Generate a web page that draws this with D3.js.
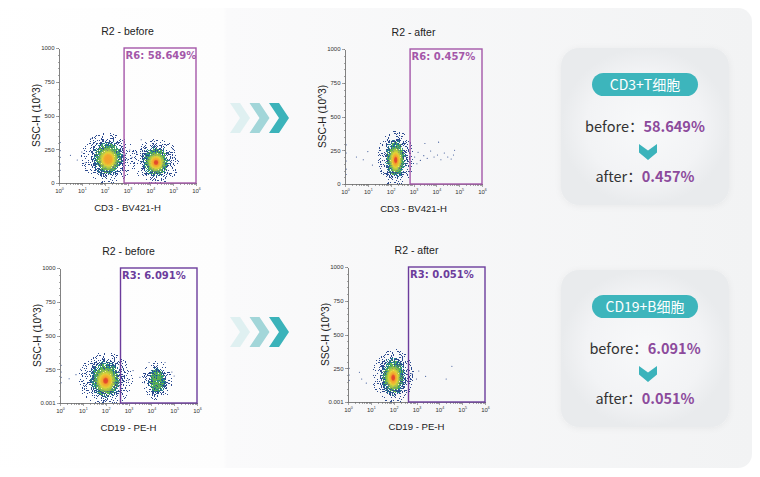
<!DOCTYPE html>
<html>
<head>
<meta charset="utf-8">
<script src="https://cdn.jsdelivr.net/npm/d3@7"></script>
<style>
    html, body { margin: 0; padding: 0; background: #fff; }
    svg { display: block; }
    .axis path, .axis line { stroke: #6a6a6a; stroke-width: 0.6; shape-rendering: crispEdges; }
    .axis text { font-family: "Liberation Sans", Arial, sans-serif; font-size: 6px; fill: #333; }
    .plot-title, .axis-label { font-family: "Liberation Sans", Arial, sans-serif; fill: #222; }
    .gate-label { font-family: "DejaVu Sans", Verdana, sans-serif; font-weight: bold; font-size: 10px; }
    .card text { font-family: "Noto Sans CJK SC", "Noto Sans", sans-serif; }
</style>
</head>
<body>
<svg id="chart" width="760" height="477"></svg>
<script>
    // ---- values ----
    var plotTitles = ['R2 - before', 'R2 - after', 'R2 - before', 'R2 - after'];
    var markerLabels = ['CD3 - BV421-H', 'CD3 - BV421-H', 'CD19 - PE-H', 'CD19 - PE-H'];
    var gateLabels = ['R6: 58.649%', 'R6: 0.457%', 'R3: 6.091%', 'R3: 0.051%'];
    var gateFrom = [2.85, 2.85, 2.65, 2.65];          // log10 of the gate's left edge
    var xDecades = [0, 1, 2, 3, 4, 5, 6];
    var yTicks = [0, 250, 500, 750, 1000];
    var yTickTextTop = ['0', '250', '500', '750', '1000'];
    var yTickTextBottom = ['0.001', '250', '500', '750', '1000'];

    // cell clusters: plot index, log10 centre, SSC centre, log10 half width, SSC half height, colour depth
    var clusterPlot = [0, 0, 1, 2, 2, 3];
    var clusterX = [2.15, 4.25, 2.22, 2.00, 4.25, 1.98];
    var clusterY = [185, 160, 188, 175, 165, 190];
    var clusterRx = [0.80, 0.72, 0.54, 0.82, 0.45, 0.62];
    var clusterRy = [155, 135, 172, 165, 120, 168];
    var clusterDepth = [5, 6, 6, 6, 3, 6];

    // scattered single events [log10, SSC]
    var straysCD3Before = [[0.05, 300], [0.05, 240], [0.05, 190], [0.05, 140], [0.05, 95], [0.5, 205],
        [0.8, 170], [1.0, 230], [1.15, 150], [2.9, 215], [3.0, 170], [3.1, 245], [3.2, 190], [3.3, 150],
        [3.4, 225], [5.05, 190], [5.0, 250], [1.4, 330], [3.6, 320]];
    var straysCD3After = [[3.05, 200], [3.2, 235], [3.3, 175], [3.45, 210], [3.6, 190], [3.75, 245],
        [3.9, 200], [4.05, 215], [4.2, 180], [4.35, 230], [4.5, 200], [4.65, 185], [4.75, 215], [4.8, 250],
        [3.5, 300], [4.1, 310], [3.15, 150], [0.05, 290], [0.05, 230], [0.05, 170], [0.05, 110],
        [0.05, 70], [0.5, 200], [0.8, 180], [1.0, 240], [1.2, 140]];
    var straysCD19Before = [[0.05, 280], [0.05, 230], [0.05, 190], [0.05, 150], [0.4, 180], [0.7, 210],
        [2.8, 200], [3.0, 170], [3.2, 240], [3.5, 190], [3.7, 150], [4.9, 230], [5.0, 200], [3.9, 300],
        [4.6, 300], [0.9, 250]];
    var straysCD19After = [[0.05, 250], [0.05, 200], [0.05, 160], [0.5, 220], [0.6, 170], [0.8, 140],
        [2.8, 210], [3.0, 170], [3.4, 190], [4.3, 170], [4.55, 265], [3.1, 230]];

    var cardTitles = ['CD3+T细胞', 'CD19+B细胞'];
    var beforeValues = ['58.649%', '6.091%'];
    var afterValues = ['0.457%', '0.051%'];

    // ---- layout ----
    var plotBox = [{x: 59, y: 48}, {x: 345, y: 49}, {x: 60, y: 268}, {x: 348, y: 267}];
    var plotW = 137, plotH = 135;
    var gateColours = ['#a457a9', '#a457a9', '#6c3c9c', '#6c3c9c'];
    var strays = [straysCD3Before, straysCD3After, straysCD19Before, straysCD19After];
    var inkColours = ['#2d4b90', '#24868f', '#5daf52', '#f2dc34', '#f3a02d', '#e3432b'];
    var layerScale = [1.0, 0.86, 0.72, 0.56, 0.34, 0.17];
    var cardTops = [48, 270];
    var arrowRows = [103, 317];

    var svg = d3.select('#chart');
    var defs = svg.append('defs');

    // panel backdrop
    var panelFill = defs.append('linearGradient').attr('id', 'panelFill');
    panelFill.append('stop').attr('offset', '0%').attr('stop-color', '#ffffff');
    panelFill.append('stop').attr('offset', '31.5%').attr('stop-color', '#fdfdfd');
    panelFill.append('stop').attr('offset', '32%').attr('stop-color', '#fafafb');
    panelFill.append('stop').attr('offset', '100%').attr('stop-color', '#f2f3f4');

    var cardFill = defs.append('radialGradient').attr('id', 'cardFill');
    cardFill.append('stop').attr('offset', '0%').attr('stop-color', '#f8f9fa');
    cardFill.append('stop').attr('offset', '70%').attr('stop-color', '#f2f3f5');
    cardFill.append('stop').attr('offset', '100%').attr('stop-color', '#e9ebed');

    defs.append('filter').attr('id', 'cardShadow')
        .attr('x', '-20%').attr('y', '-20%').attr('width', '140%').attr('height', '140%')
        .append('feDropShadow').attr('dx', 0).attr('dy', 1).attr('stdDeviation', 3)
        .attr('flood-color', '#000').attr('flood-opacity', 0.05);

    defs.append('filter').attr('id', 'soft')
        .attr('x', '-30%').attr('y', '-30%').attr('width', '160%').attr('height', '160%')
        .append('feGaussianBlur').attr('stdDeviation', 0.7);

    // grainy fill: the alpha of the shape decides how many noise grains survive
    function addDither(id, colour, seed) {
        var f = defs.append('filter').attr('id', id)
            .attr('filterUnits', 'userSpaceOnUse')
            .attr('x', -60).attr('y', -60).attr('width', 300).attr('height', 300)
            .attr('color-interpolation-filters', 'sRGB');
        f.append('feTurbulence').attr('type', 'fractalNoise').attr('baseFrequency', 0.9)
            .attr('numOctaves', 1).attr('seed', seed).attr('result', 'noise');
        f.append('feColorMatrix').attr('in', 'noise').attr('type', 'matrix')
            .attr('values', '0 0 0 0 0  0 0 0 0 0  0 0 0 0 0  4.5 0 0 0 -1.75')
            .attr('result', 'grain');
        f.append('feComposite').attr('in', 'SourceGraphic').attr('in2', 'grain')
            .attr('operator', 'arithmetic')
            .attr('k1', 0).attr('k2', 1).attr('k3', -1).attr('k4', 0.45)
            .attr('result', 'diff');
        f.append('feComponentTransfer').attr('in', 'diff').attr('result', 'dots')
            .append('feFuncA').attr('type', 'discrete').attr('tableValues', '0 1');
        f.append('feFlood').attr('flood-color', colour).attr('result', 'ink');
        f.append('feComposite').attr('in', 'ink').attr('in2', 'dots').attr('operator', 'in');
    }
    addDither('ditherHalo', inkColours[0], 19);
    addDither('dither0', inkColours[0], 3);
    addDither('dither1', inkColours[1], 7);
    addDither('dither2', inkColours[2], 11);

    function addFade(id, colour, stops) {
        var gr = defs.append('radialGradient').attr('id', id);
        stops.forEach(function (s) {
            gr.append('stop').attr('offset', s[0]).attr('stop-color', colour).attr('stop-opacity', s[1]);
        });
    }
    addFade('fadeHalo', '#000', [[0, 0.3], [0.5, 0.18], [1, 0]]);
    addFade('fadeDither0', '#000', [[0, 0.85], [0.6, 0.55], [1, 0]]);
    addFade('fadeDither1', '#000', [[0, 1], [0.6, 0.72], [1, 0.05]]);
    addFade('fadeDither2', '#000', [[0, 1], [0.6, 0.85], [1, 0.15]]);
    [3, 4, 5].forEach(function (k) {
        addFade('fade' + k, inkColours[k], [[0, 1], [0.55, 0.9], [1, 0]]);
    });

    svg.append('rect')
        .attr('x', -20).attr('y', 8).attr('width', 772).attr('height', 460).attr('rx', 14)
        .attr('fill', 'url(#panelFill)');

    // ---- dot plots ----
    plotBox.forEach(function (box, i) {
        var x = d3.scaleLog().domain([1, 1e6]).range([0, plotW]),
            y = d3.scaleLinear().domain([0, 1000]).range([plotH, 0]),
            top = i < 2,
            $plot = svg.append('g')
                .attr('transform', 'translate(' + box.x + ',' + box.y + ')');

        $plot.append('clipPath').attr('id', 'clip' + i)
            .append('rect').attr('width', plotW).attr('height', plotH);

        var $cells = $plot.append('g').attr('clip-path', 'url(#clip' + i + ')');

        clusterPlot.forEach(function (p, c) {
            if (p !== i) return;
            var cx = x(Math.pow(10, clusterX[c])),
                cy = y(clusterY[c]),
                rx = x(Math.pow(10, clusterX[c] + clusterRx[c])) - cx,
                ry = cy - y(clusterY[c] + clusterRy[c]);

            $cells.append('ellipse')
                .attr('cx', cx).attr('cy', cy)
                .attr('rx', rx * 1.7).attr('ry', ry * 1.4)
                .attr('fill', 'url(#fadeHalo)')
                .attr('filter', 'url(#ditherHalo)');

            for (var k = 0; k < clusterDepth[c]; k++) {
                var $e = $cells.append('ellipse')
                    .attr('cx', cx).attr('cy', cy + (k > 2 ? ry * 0.06 : 0))
                    .attr('rx', rx * layerScale[k]).attr('ry', ry * layerScale[k]);
                if (k < 3) {
                    $e.attr('fill', 'url(#fadeDither' + k + ')').attr('filter', 'url(#dither' + k + ')');
                } else {
                    $e.attr('fill', 'url(#fade' + k + ')').attr('filter', 'url(#soft)');
                }
            }
        });

        $cells.selectAll('circle.stray')
            .data(strays[i])
            .enter().append('circle')
            .attr('class', 'stray')
            .attr('cx', function (d) { return x(Math.pow(10, d[0])); })
            .attr('cy', function (d) { return y(d[1]); })
            .attr('r', 0.55)
            .attr('fill', inkColours[0]);

        // axes
        var minor = [];
        for (var p = 0; p < 6; p++) {
            for (var m = 2; m < 10; m++) minor.push(m * Math.pow(10, p));
        }
        $plot.append('g').attr('class', 'axis')
            .attr('transform', 'translate(0,' + plotH + ')')
            .call(d3.axisBottom(x).tickValues(minor).tickSize(1.5).tickSizeOuter(0).tickFormat(''));
        var $xAxis = $plot.append('g').attr('class', 'axis')
            .attr('transform', 'translate(0,' + plotH + ')')
            .call(d3.axisBottom(x)
                .tickValues(xDecades.map(function (d) { return Math.pow(10, d); }))
                .tickSize(3).tickSizeOuter(0).tickFormat(''));
        $xAxis.selectAll('.tick').append('text')
            .attr('y', 10)
            .attr('fill', '#333')
            .each(function (d, j) {
                var t = d3.select(this);
                t.append('tspan').text('10');
                t.append('tspan').attr('dy', -2.6).attr('font-size', 3.6).text(xDecades[j]);
            });

        var yMinor = d3.range(0, 1001, 50);
        $plot.append('g').attr('class', 'axis')
            .call(d3.axisLeft(y).tickValues(yMinor).tickSize(1.5).tickSizeOuter(0).tickFormat(''));
        $plot.append('g').attr('class', 'axis')
            .call(d3.axisLeft(y).tickValues(yTicks).tickSize(3).tickSizeOuter(0).tickPadding(1.5)
                .tickFormat(function (d, j) { return (top ? yTickTextTop : yTickTextBottom)[j]; }));

        // gate
        var gx = x(Math.pow(10, gateFrom[i]));
        $plot.append('rect')
            .attr('x', gx).attr('y', 0)
            .attr('width', plotW - gx).attr('height', plotH)
            .attr('fill', 'none')
            .attr('stroke', gateColours[i])
            .attr('stroke-width', 1.4);
        $plot.append('text').attr('class', 'gate-label')
            .attr('x', gx + 1.5).attr('y', 11)
            .attr('fill', gateColours[i])
            .text(gateLabels[i]);

        $plot.append('text').attr('class', 'plot-title')
            .attr('x', plotW / 2).attr('y', -13)
            .attr('text-anchor', 'middle').attr('font-size', 10.5)
            .text(plotTitles[i]);
        $plot.append('text').attr('class', 'axis-label')
            .attr('x', plotW / 2).attr('y', plotH + 28)
            .attr('text-anchor', 'middle').attr('font-size', 9.6)
            .text(markerLabels[i]);
        $plot.append('text').attr('class', 'axis-label')
            .attr('transform', 'translate(-19.5,' + (plotH / 2) + ') rotate(-90)')
            .attr('text-anchor', 'middle').attr('font-size', 10.2)
            .text('SSC-H (10^3)');
    });

    // ---- chevrons between before / after ----
    var arrowShades = ['#dff0f1', '#a2d6d9', '#3bb3ba'];
    arrowRows.forEach(function (ay) {
        arrowShades.forEach(function (shade, k) {
            svg.append('path')
                .attr('transform', 'translate(' + (230 + k * 19.5) + ',' + ay + ')')
                .attr('d', 'M0,0 L10,0 L20,15 L10,30 L0,30 L10,15 Z')
                .attr('fill', shade);
        });
    });

    // ---- summary cards ----
    cardTops.forEach(function (ty, i) {
        var $card = svg.append('g').attr('class', 'card');

        $card.append('rect')
            .attr('x', 561).attr('y', ty).attr('width', 168).attr('height', 157).attr('rx', 18)
            .attr('fill', 'url(#cardFill)')
            .attr('filter', 'url(#cardShadow)');

        $card.append('rect')
            .attr('x', 592).attr('y', ty + 25).attr('width', 106).attr('height', 23).attr('rx', 11.5)
            .attr('fill', '#3db5bc');
        $card.append('text')
            .attr('x', 645).attr('y', ty + 41.5)
            .attr('text-anchor', 'middle')
            .attr('font-size', 14).attr('fill', '#fff')
            .text(cardTitles[i]);

        var $before = $card.append('text')
            .attr('x', 645).attr('y', ty + 84)
            .attr('text-anchor', 'middle').attr('font-size', 14.5);
        $before.append('tspan').attr('fill', '#333').text('before：');
        $before.append('tspan').attr('fill', '#8c4a9c').attr('font-weight', 'bold').text(beforeValues[i]);

        $card.append('path')
            .attr('transform', 'translate(639,' + (ty + 96) + ')')
            .attr('d', 'M0,0 L9,6.5 L18,0 L18,8.5 L9,16 L0,8.5 Z')
            .attr('fill', '#3bb3bb');

        var $after = $card.append('text')
            .attr('x', 645).attr('y', ty + 134)
            .attr('text-anchor', 'middle').attr('font-size', 14.5);
        $after.append('tspan').attr('fill', '#333').text('after：');
        $after.append('tspan').attr('fill', '#8c4a9c').attr('font-weight', 'bold').text(afterValues[i]);
    });
</script>
</body>
</html>
